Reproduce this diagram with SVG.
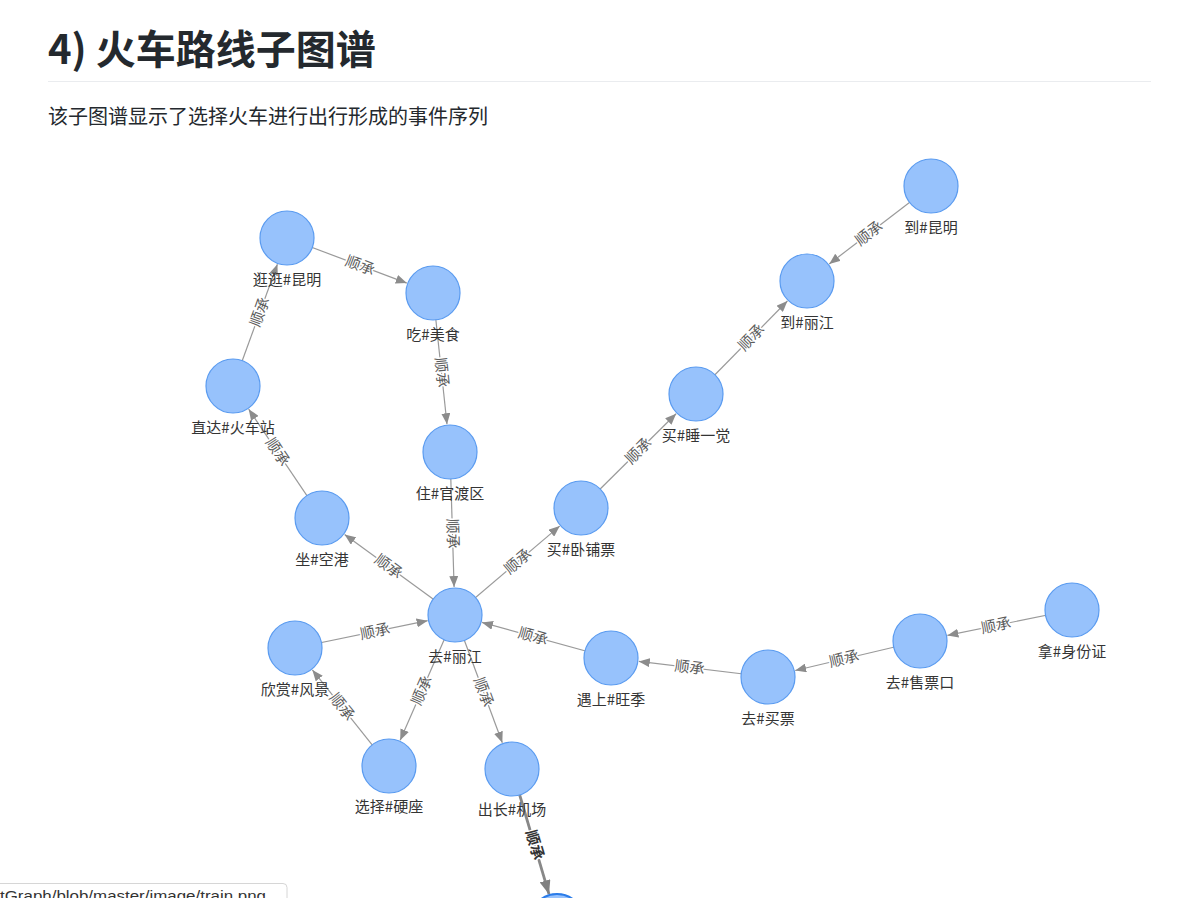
<svg xmlns="http://www.w3.org/2000/svg" width="1191" height="898" viewBox="0 0 1191 898">
<style>
text{font-family:"Noto Sans CJK SC","Liberation Sans",sans-serif}
.title{font-size:40px;font-weight:bold;fill:#24292e}
.sub{font-size:20px;fill:#24292e}
.edge{stroke:#9a9a9a;stroke-width:1.2;fill:none;marker-end:url(#arr)}
.edge.hl{stroke:#888;stroke-width:2.8;marker-end:url(#arrhl)}
.el{font-size:15px;fill:#5c5c5c;text-anchor:middle;stroke:#fff;stroke-width:3;paint-order:stroke;stroke-linejoin:round}
.el.hl{fill:#333;font-weight:bold}
.node circle{fill:#97c2fc;stroke:#5a9bf0;stroke-width:1.2}
.node text{font-size:15px;fill:#343434;text-anchor:middle}
.status{font-family:"Liberation Sans",sans-serif;font-size:15.5px;fill:#333}
</style>
<defs>
<marker id="arr" markerUnits="userSpaceOnUse" viewBox="0 0 11 9" refX="11" refY="4.5" markerWidth="11" markerHeight="9" orient="auto">
<path d="M0,0 L11,4.5 L0,9 z" fill="#8c8c8c"/>
</marker>
<marker id="arrhl" markerUnits="userSpaceOnUse" viewBox="0 0 14 11" refX="14" refY="5.5" markerWidth="14" markerHeight="11" orient="auto">
<path d="M0,0 L14,5.5 L0,11 z" fill="#808080"/>
</marker>
</defs>
<rect width="1191" height="898" fill="#fff"/>
<text class="title" x="48" y="64">4) 火车路线子图谱</text>
<line x1="48" y1="81.5" x2="1151" y2="81.5" stroke="#eaecef" stroke-width="1"/>
<text class="sub" x="48" y="124">该子图谱显示了选择火车进行出行形成的事件序列</text>

<g id="edges">
<line class="edge" x1="287" y1="238" x2="406.8" y2="283.1"/>
<line class="edge" x1="433" y1="293" x2="447.0" y2="424.2"/>
<line class="edge" x1="450" y1="452" x2="454.1" y2="587.0"/>
<line class="edge" x1="455" y1="615" x2="344.6" y2="534.5"/>
<line class="edge" x1="322" y1="518" x2="248.7" y2="409.2"/>
<line class="edge" x1="233" y1="386" x2="277.4" y2="264.3"/>
<line class="edge" x1="295" y1="648" x2="427.6" y2="620.7"/>
<line class="edge" x1="455" y1="615" x2="400.2" y2="740.3"/>
<line class="edge" x1="389" y1="766" x2="312.4" y2="669.9"/>
<line class="edge" x1="455" y1="615" x2="502.3" y2="742.7"/>
<line class="edge hl" x1="512" y1="769" x2="549.0" y2="894.2"/>
<line class="edge" x1="455" y1="615" x2="559.7" y2="526.1"/>
<line class="edge" x1="581" y1="508" x2="676.1" y2="413.7"/>
<line class="edge" x1="696" y1="394" x2="787.4" y2="301.0"/>
<line class="edge" x1="931" y1="186" x2="829.2" y2="264.0"/>
<line class="edge" x1="611" y1="658" x2="482.0" y2="622.4"/>
<line class="edge" x1="768" y1="677" x2="638.8" y2="661.4"/>
<line class="edge" x1="920" y1="641" x2="795.2" y2="670.5"/>
<line class="edge" x1="1072" y1="610" x2="947.4" y2="635.4"/>

<text class="el" transform="translate(360,265.5) rotate(20.6)" y="5">顺承</text>
<text class="el" transform="translate(441.5,372.5) rotate(83.9)" y="5">顺承</text>
<text class="el" transform="translate(452.5,533.5) rotate(88.2)" y="5">顺承</text>
<text class="el" transform="translate(388.5,566.5) rotate(36.1)" y="5">顺承</text>
<text class="el" transform="translate(277.5,452) rotate(56)" y="5">顺承</text>
<text class="el" transform="translate(260,312) rotate(-70)" y="5">顺承</text>
<text class="el" transform="translate(375,631.5) rotate(-11.7)" y="5">顺承</text>
<text class="el" transform="translate(422,690.5) rotate(-66.4)" y="5">顺承</text>
<text class="el" transform="translate(342,707) rotate(51.5)" y="5">顺承</text>
<text class="el" transform="translate(483.5,692) rotate(69.7)" y="5">顺承</text>
<text class="el hl" transform="translate(534.5,845) rotate(73.5)" y="5">顺承</text>
<text class="el" transform="translate(518,561.5) rotate(-40.3)" y="5">顺承</text>
<text class="el" transform="translate(638.5,451) rotate(-44.8)" y="5">顺承</text>
<text class="el" transform="translate(751.5,337.5) rotate(-45.5)" y="5">顺承</text>
<text class="el" transform="translate(869,233.5) rotate(-37.5)" y="5">顺承</text>
<text class="el" transform="translate(533,636.5) rotate(15.4)" y="5">顺承</text>
<text class="el" transform="translate(689.5,667.5) rotate(6.9)" y="5">顺承</text>
<text class="el" transform="translate(844,659) rotate(-13.3)" y="5">顺承</text>
<text class="el" transform="translate(996,625.5) rotate(-11.5)" y="5">顺承</text>
</g>

<g id="n-guangguang-kunming" class="node"><circle cx="287" cy="238" r="27"/><text x="287" y="285">逛逛#昆明</text></g>
<g id="n-chi-meishi" class="node"><circle cx="433" cy="293" r="27"/><text x="433" y="340">吃#美食</text></g>
<g id="n-zhida-huochezhan" class="node"><circle cx="233" cy="386" r="27"/><text x="233" y="433">直达#火车站</text></g>
<g id="n-zhu-guanduqu" class="node"><circle cx="450" cy="452" r="27"/><text x="450" y="499">住#官渡区</text></g>
<g id="n-zuo-konggang" class="node"><circle cx="322" cy="518" r="27"/><text x="322" y="565">坐#空港</text></g>
<g id="n-qu-lijiang" class="node"><circle cx="455" cy="615" r="27"/><text x="455" y="662">去#丽江</text></g>
<g id="n-xinshang-fengjing" class="node"><circle cx="295" cy="648" r="27"/><text x="295" y="695">欣赏#风景</text></g>
<g id="n-xuanze-yingzuo" class="node"><circle cx="389" cy="766" r="27"/><text x="389" y="812">选择#硬座</text></g>
<g id="n-chuchang-jichang" class="node"><circle cx="512" cy="769" r="27"/><text x="512" y="815">出长#机场</text></g>
<g id="n-bottom" class="node"><circle cx="557" cy="921" r="27" style="stroke:#2b7ce9;stroke-width:2"/></g>
<g id="n-mai-wopupiao" class="node"><circle cx="581" cy="508" r="27"/><text x="581" y="555">买#卧铺票</text></g>
<g id="n-mai-shuiyijiao" class="node"><circle cx="696" cy="394" r="27"/><text x="696" y="441">买#睡一觉</text></g>
<g id="n-dao-lijiang" class="node"><circle cx="807" cy="281" r="27"/><text x="807" y="328">到#丽江</text></g>
<g id="n-dao-kunming" class="node"><circle cx="931" cy="186" r="27"/><text x="931" y="233">到#昆明</text></g>
<g id="n-yushang-wangji" class="node"><circle cx="611" cy="658" r="27"/><text x="611" y="705">遇上#旺季</text></g>
<g id="n-qu-maipiao" class="node"><circle cx="768" cy="677" r="27"/><text x="768" y="724">去#买票</text></g>
<g id="n-qu-shoupiaokou" class="node"><circle cx="920" cy="641" r="27"/><text x="920" y="688">去#售票口</text></g>
<g id="n-na-shenfenzheng" class="node"><circle cx="1072" cy="610" r="27"/><text x="1072" y="657">拿#身份证</text></g>

<path d="M-2,883.5 H283 A4,4 0 0 1 287,887.5 V900 H-2 Z" fill="#fff" stroke="#d6d6d6" stroke-width="1"/>
<text class="status" x="0" y="901" textLength="266" lengthAdjust="spacingAndGlyphs">tGraph/blob/master/image/train.png</text>
</svg>
